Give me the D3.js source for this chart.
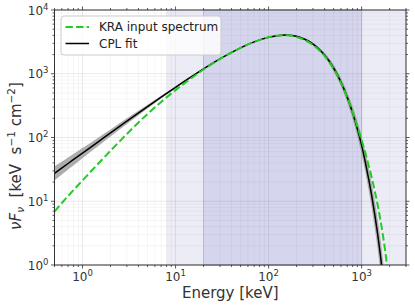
<!DOCTYPE html>
<html><head><meta charset="utf-8">
<script src="https://cdn.jsdelivr.net/npm/d3@7"></script>
<style>
html,body{margin:0;padding:0;background:#fff;}
svg{display:block;font-family:"DejaVu Sans",sans-serif;}
</style></head>
<body><svg id="c" width="415" height="308"></svg>
<script>
// ---- data ----
const energy = [0.5,0.7,1,1.5,2,3,5,7,10,15,20,30,50,70,100,130,150,180,220,270,330,400,500,600,700,800,900,1000,1100,1200,1300,1400,1500,1600,1700,1800,1900,2000];
const cplFit = [27.4,39.1,57.0,87.2,117.9,180.0,305.0,429.5,613.8,910.8,1192.9,1708.6,2550,3164,3740,3998,4042,3970,3706,3236,2624,1965,1231,738.6,430.0,244.9,137.2,75.9,40,21,11,5.6,2.8,1.35,0.62,0.27,0.11,0.04];
const cplErrDex = [0.11,0.095,0.08,0.065,0.055,0.045,0.03,0.022,0.016,0.012,0.01,0.009,0.008,0.008,0.008,0.008,0.009,0.01,0.013,0.018,0.025,0.035,0.05,0.065,0.08,0.1,0.12,0.14,0.16,0.18,0.2,0.22,0.24,0.26,0.28,0.3,0.32,0.34];
const kraInput = [6.89,12.09,21.2,39.9,61.9,113.6,234.0,361.4,553.4,865.9,1166,1697,2550,3164,3740,3998,4030,3925,3605,3126,2535,1898,1189,718.5,425.1,250.6,148.8,91.2,56.5,34.8,21.9,13.4,8.26,4.90,2.83,1.59,0.83,0.4];
const bandLight = [8, 3000];
const bandDark = [20, 1000];
const xTicks = [1,10,100,1000];
const yTicks = [1,10,100,1000,10000];
const legendLabels = ["KRA input spectrum","CPL fit"];
const xLabel = "Energy [keV]";

// ---- layout ----
const L = 54.5, R = 406, T = 10, B = 265;
const svg = d3.select("#c");
const x = d3.scaleLog().domain([0.5,3000]).range([L,R]);
const y = d3.scaleLog().domain([1,10000]).range([B,T]);
const ink = "#333";

svg.append("defs").append("clipPath").attr("id","clip")
  .append("rect").attr("x",L).attr("y",T).attr("width",R-L).attr("height",B-T);

// bands
svg.append("rect").attr("x",x(bandLight[0])).attr("y",T)
  .attr("width",R-x(bandLight[0])).attr("height",B-T).attr("fill","#ececf7");
svg.append("rect").attr("x",x(bandDark[0])).attr("y",T)
  .attr("width",x(bandDark[1])-x(bandDark[0])).attr("height",B-T)
  .attr("fill","#d5d5ee").attr("stroke","#bdbde3").attr("stroke-width",1);

// grid
const xMinor = [], yMinor = [];
for (let d=-1; d<=3; d++) for (let m=1; m<=9; m++){ const v=m*Math.pow(10,d); if(v>=0.5&&v<=3000) xMinor.push(v); }
for (let d=0; d<4; d++) for (let m=1; m<=9; m++){ yMinor.push(m*Math.pow(10,d)); }
yMinor.push(10000);
const grid = svg.append("g");
grid.selectAll(".gx").data(xMinor).join("line")
  .attr("x1",d=>x(d)).attr("x2",d=>x(d)).attr("y1",T).attr("y2",B)
  .attr("stroke", d=>xTicks.includes(d)?"rgba(0,0,0,0.10)":"rgba(0,0,0,0.05)").attr("stroke-width",0.8);
grid.selectAll(".gy").data(yMinor).join("line")
  .attr("y1",d=>y(d)).attr("y2",d=>y(d)).attr("x1",L).attr("x2",R)
  .attr("stroke", d=>yTicks.includes(d)?"rgba(0,0,0,0.10)":"rgba(0,0,0,0.05)").attr("stroke-width",0.8);

// curves
const pts = energy.map((e,i)=>({e, f:cplFit[i], w:cplErrDex[i], k:kraInput[i]}));
const plot = svg.append("g").attr("clip-path","url(#clip)");
plot.append("path").datum(pts)
  .attr("d", d3.area().x(d=>x(d.e)).y0(d=>y(d.f*Math.pow(10,-d.w))).y1(d=>y(d.f*Math.pow(10,d.w))).curve(d3.curveMonotoneX))
  .attr("fill","#a0a0a0").attr("opacity",0.85);
plot.append("path").datum(pts)
  .attr("d", d3.line().x(d=>x(d.e)).y(d=>y(d.f)).curve(d3.curveMonotoneX))
  .attr("fill","none").attr("stroke","#000").attr("stroke-width",1.5);
plot.append("path").datum(pts)
  .attr("d", d3.line().x(d=>x(d.e)).y(d=>y(d.k)).curve(d3.curveMonotoneX))
  .attr("fill","none").attr("stroke","#22cc22").attr("stroke-width",2)
  .attr("stroke-dasharray","7.4,3.2");

// axes: spines + ticks on all four sides
const ax = svg.append("g");
ax.append("rect").attr("x",L).attr("y",T).attr("width",R-L).attr("height",B-T)
  .attr("fill","none").attr("stroke",ink).attr("stroke-width",1);
function tickLen(v, majors){ return majors.includes(v)?3.5:2; }
xMinor.forEach(v=>{
  const t = tickLen(v,xTicks);
  ax.append("line").attr("x1",x(v)).attr("x2",x(v)).attr("y1",B).attr("y2",B+t).attr("stroke",ink).attr("stroke-width",0.8);
  ax.append("line").attr("x1",x(v)).attr("x2",x(v)).attr("y1",T).attr("y2",T-t).attr("stroke",ink).attr("stroke-width",0.8);
});
yMinor.forEach(v=>{
  const t = tickLen(v,yTicks);
  ax.append("line").attr("y1",y(v)).attr("y2",y(v)).attr("x1",L).attr("x2",L-t).attr("stroke",ink).attr("stroke-width",0.8);
  ax.append("line").attr("y1",y(v)).attr("y2",y(v)).attr("x1",R).attr("x2",R+t).attr("stroke",ink).attr("stroke-width",0.8);
});
// tick labels
xTicks.forEach(v=>{
  const t = ax.append("text").attr("x",x(v)).attr("y",281).attr("text-anchor","middle")
    .attr("font-size",12).attr("fill",ink);
  t.append("tspan").text("10");
  t.append("tspan").attr("dy",-5).attr("font-size",8.5).text(String(Math.round(Math.log10(v))));
});
yTicks.forEach(v=>{
  const t = ax.append("text").attr("x",48.5).attr("y",y(v)+4.5).attr("text-anchor","end")
    .attr("font-size",12).attr("fill",ink);
  t.append("tspan").text("10");
  t.append("tspan").attr("dy",-5).attr("font-size",8.5).text(String(Math.round(Math.log10(v))));
});
// axis labels
svg.append("text").attr("x",(L+R)/2).attr("y",297.5).attr("text-anchor","middle")
  .attr("font-size",15).attr("fill",ink).text(xLabel);
const yl = svg.append("text").attr("transform","translate(21,156) rotate(-90)")
  .attr("text-anchor","middle").attr("font-size",15).attr("fill",ink);
yl.append("tspan").attr("font-style","italic").text("νF");
yl.append("tspan").attr("font-style","italic").attr("font-size",10.5).attr("dy",3).text("ν");
yl.append("tspan").attr("dy",-3).text("  [keV  s");
yl.append("tspan").attr("font-size",10.5).attr("dy",-6).text("−1");
yl.append("tspan").attr("dy",6).text(" cm");
yl.append("tspan").attr("font-size",10.5).attr("dy",-6).text("−2");
yl.append("tspan").attr("dy",6).text("]");
yl.attr("xml:space","preserve").style("white-space","pre");

// legend
const lg = svg.append("g");
lg.append("rect").attr("x",61).attr("y",16).attr("width",160).attr("height",39).attr("rx",3)
  .attr("fill","rgba(255,255,255,0.8)").attr("stroke","#cccccc").attr("stroke-width",1);
lg.append("line").attr("x1",65.5).attr("x2",89).attr("y1",27).attr("y2",27)
  .attr("stroke","#22cc22").attr("stroke-width",2).attr("stroke-dasharray","7.4,3.2");
lg.append("line").attr("x1",65.5).attr("x2",89).attr("y1",43.5).attr("y2",43.5)
  .attr("stroke","#000").attr("stroke-width",1.5);
legendLabels.forEach((s,i)=>{
  lg.append("text").attr("x",99).attr("y",31.3+i*16.5).attr("font-size",12).attr("fill","#222").text(s);
});
</script></body></html>
